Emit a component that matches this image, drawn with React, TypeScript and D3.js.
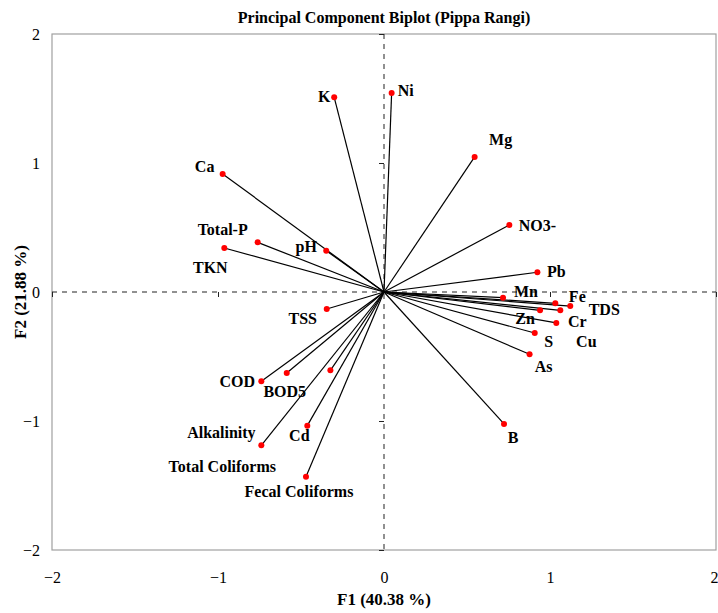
import * as d3 from "d3";
import { useEffect, useRef } from "react";

// variable names and their loadings on F1 / F2
const names = [
  "K", "Ni", "Mg", "Ca", "NO3-", "Total-P", "TKN", "pH", "Pb", "Mn", "Fe", "TDS", "Zn",
  "Cr", "Cu", "S", "As", "B", "TSS", "COD", "BOD5", "Alkalinity", "Cd",
  "Total Coliforms", "Fecal Coliforms",
];
const f1 = [
  -0.3, 0.046, 0.546, -0.972, 0.755, -0.761, -0.962, -0.348, 0.924, 0.717, 1.032, 1.122, 0.94,
  1.062, 1.038, 0.908, 0.877, 0.723, -0.345, -0.739, -0.586, -0.323, -0.462,
  -0.739, -0.47,
];
const f2 = [
  1.509, 1.543, 1.047, 0.915, 0.519, 0.385, 0.341, 0.32, 0.153, -0.044, -0.088, -0.109, -0.142,
  -0.142, -0.24, -0.318, -0.483, -1.023, -0.132, -0.692, -0.628, -0.607, -1.036,
  -1.188, -1.432,
];
const ticks = [-2, -1, 0, 1, 2];

// label placement (pixel offset of label centre from the point)
const labelShift: Record<string, [number, number]> = {
  K: [-10, -1], Ni: [14, -2], Mg: [26, -17], Ca: [-18, -7], "NO3-": [28, 0],
  "Total-P": [-35, -13], TKN: [-14, 19], pH: [-20, -4], Pb: [19, -1], Mn: [23, -6],
  Fe: [22, -7], TDS: [34, 3], Zn: [-15, 8], Cr: [17, 11], Cu: [30, 19], S: [14, 8],
  As: [14, 12], B: [9, 14], TSS: [-24, 9], COD: [-24, 0], BOD5: [-2, 18],
  Alkalinity: [-109, 62], Cd: [-8, 10], "Total Coliforms": [-39, 21],
  "Fecal Coliforms": [-7, 15],
};

const width = 718;
const height = 613;
const margin = { top: 34, right: 2, bottom: 63, left: 52 };
const font = "'Liberation Serif', 'Times New Roman', serif";

export default function App() {
  const ref = useRef<SVGSVGElement>(null);

  useEffect(() => {
    const svg = d3.select(ref.current);
    svg.selectAll("*").remove();

    const x = d3.scaleLinear().domain([-2, 2]).range([margin.left, width - margin.right]);
    const y = d3.scaleLinear().domain([-2, 2]).range([height - margin.bottom, margin.top]);

    const data = names.map((n, i) => ({ name: n, x: f1[i], y: f2[i] }));

    // frame
    svg
      .append("rect")
      .attr("x", x(-2))
      .attr("y", y(2))
      .attr("width", x(2) - x(-2))
      .attr("height", y(-2) - y(2))
      .attr("fill", "none")
      .attr("stroke", "#a0a0a0")
      .attr("stroke-width", 1.2);

    // dashed zero lines
    svg
      .append("line")
      .attr("x1", x(-2))
      .attr("x2", x(2))
      .attr("y1", y(0))
      .attr("y2", y(0))
      .attr("stroke", "#222")
      .attr("stroke-dasharray", "5,5");
    svg
      .append("line")
      .attr("x1", x(0))
      .attr("x2", x(0))
      .attr("y1", y(2))
      .attr("y2", y(-2))
      .attr("stroke", "#222")
      .attr("stroke-dasharray", "5,5");

    // small ticks on the zero lines
    const hTicks = svg
      .append("g")
      .attr("transform", `translate(0,${y(0)})`)
      .call(d3.axisBottom(x).tickValues(ticks.filter((t) => t !== 0)).tickSize(5).tickFormat(() => ""));
    hTicks.select(".domain").remove();
    hTicks.selectAll("line").attr("stroke", "#222");
    const vTicks = svg
      .append("g")
      .attr("transform", `translate(${x(0)},0)`)
      .call(d3.axisLeft(y).tickValues(ticks.filter((t) => t !== 0)).tickSize(5).tickFormat(() => ""));
    vTicks.select(".domain").remove();
    vTicks.selectAll("line").attr("stroke", "#222");

    // tick labels outside the frame
    const xAx = svg
      .append("g")
      .attr("transform", `translate(0,${y(-2)})`)
      .call(d3.axisBottom(x).tickValues(ticks).tickSize(0).tickPadding(22).tickFormat(d3.format("d")));
    xAx.select(".domain").remove();
    xAx.selectAll("text").attr("font-family", font).attr("font-size", 16).attr("fill", "#000");
    // keep the last label inside the picture
    xAx
      .selectAll<SVGTextElement, number>("text")
      .filter((d) => d === 2)
      .attr("text-anchor", "end")
      .attr("dx", 2);

    const yAx = svg
      .append("g")
      .attr("transform", `translate(${x(-2)},0)`)
      .call(d3.axisLeft(y).tickValues(ticks).tickSize(0).tickPadding(12).tickFormat(d3.format("d")));
    yAx.select(".domain").remove();
    yAx.selectAll("text").attr("font-family", font).attr("font-size", 16).attr("fill", "#000");

    // vectors
    svg
      .append("g")
      .selectAll("line")
      .data(data)
      .enter()
      .append("line")
      .attr("x1", x(0))
      .attr("y1", y(0))
      .attr("x2", (d) => x(d.x))
      .attr("y2", (d) => y(d.y))
      .attr("stroke", "#000")
      .attr("stroke-width", 1.2);

    svg
      .append("g")
      .selectAll("circle")
      .data(data)
      .enter()
      .append("circle")
      .attr("cx", (d) => x(d.x))
      .attr("cy", (d) => y(d.y))
      .attr("r", 3)
      .attr("fill", "#ff0000");

    svg
      .append("g")
      .selectAll("text")
      .data(data)
      .enter()
      .append("text")
      .attr("x", (d) => x(d.x) + labelShift[d.name][0])
      .attr("y", (d) => y(d.y) + labelShift[d.name][1])
      .attr("text-anchor", "middle")
      .attr("dominant-baseline", "central")
      .attr("font-family", font)
      .attr("font-weight", "bold")
      .attr("font-size", 16)
      .text((d) => d.name);

    // titles
    svg
      .append("text")
      .attr("x", x(0))
      .attr("y", 17)
      .attr("text-anchor", "middle")
      .attr("dominant-baseline", "central")
      .attr("font-family", font)
      .attr("font-weight", "bold")
      .attr("font-size", 16)
      .text("Principal Component Biplot (Pippa Rangi)");

    svg
      .append("text")
      .attr("x", x(0))
      .attr("y", 599)
      .attr("text-anchor", "middle")
      .attr("dominant-baseline", "central")
      .attr("font-family", font)
      .attr("font-weight", "bold")
      .attr("font-size", 17)
      .text("F1 (40.38 %)");

    svg
      .append("text")
      .attr("transform", `translate(20,${y(0)}) rotate(-90)`)
      .attr("text-anchor", "middle")
      .attr("dominant-baseline", "central")
      .attr("font-family", font)
      .attr("font-weight", "bold")
      .attr("font-size", 17)
      .text("F2 (21.88 %)");
  }, []);

  return (
    <svg
      ref={ref}
      width={width}
      height={height}
      style={{ position: "absolute", left: 0, top: 0, background: "#fff" }}
    />
  );
}
